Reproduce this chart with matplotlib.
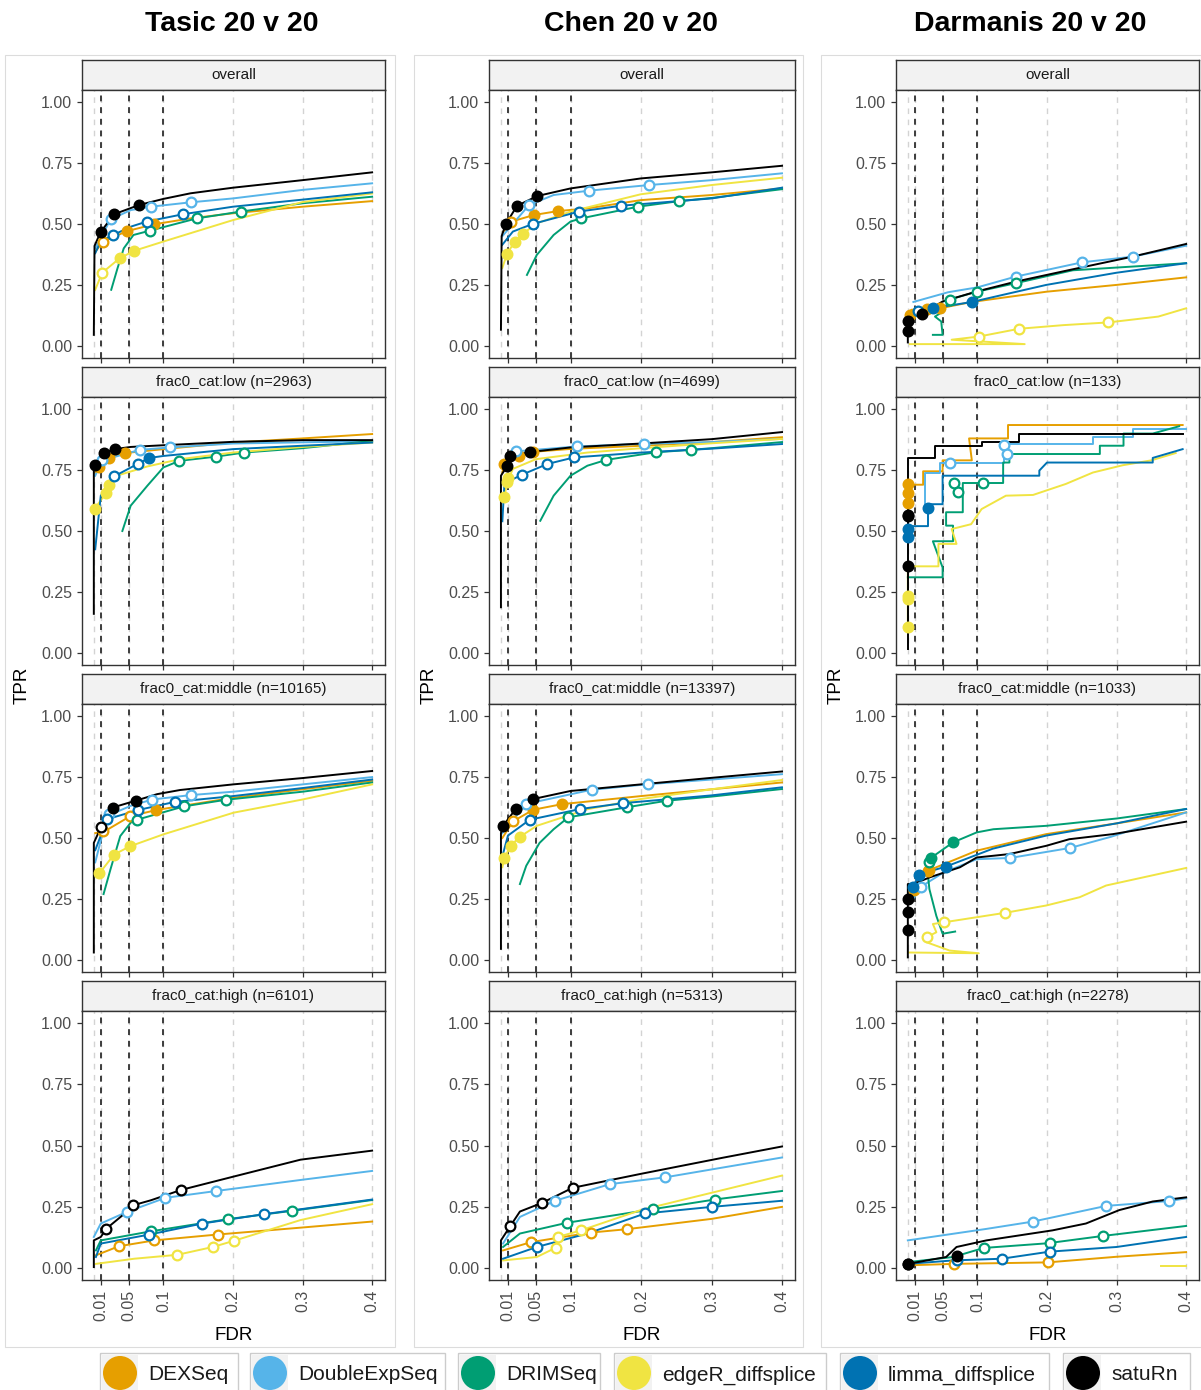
import matplotlib
matplotlib.use("Agg")
import matplotlib.pyplot as plt
from matplotlib.patches import Rectangle, Circle

plt.rcParams['font.family'] = ['Liberation Sans', 'DejaVu Sans']

# methods and colours
methods = ["DEXSeq", "DoubleExpSeq", "DRIMSeq", "edgeR_diffsplice", "limma_diffsplice", "satuRn"]
colors = ["#E69F00", "#56B4E9", "#009E73", "#F0E442", "#0072B2", "#000000"]

datasets = ["Tasic 20 v 20", "Chen 20 v 20", "Darmanis 20 v 20"]
strata_tasic = ["overall", "frac0_cat:low (n=2963)", "frac0_cat:middle (n=10165)", "frac0_cat:high (n=6101)"]
strata_chen = ["overall", "frac0_cat:low (n=4699)", "frac0_cat:middle (n=13397)", "frac0_cat:high (n=5313)"]
strata_darmanis = ["overall", "frac0_cat:low (n=133)", "frac0_cat:middle (n=1033)", "frac0_cat:high (n=2278)"]

thresholds = [0.01, 0.05, 0.1]
fdr_ticks = [0.01, 0.05, 0.1, 0.2, 0.3, 0.4]
fdr_labels = ["0.01", "0.05", "0.1", "0.2", "0.3", "0.4"]
tpr_ticks = [0.0, 0.25, 0.5, 0.75, 1.0]
tpr_labels = ["0.00", "0.25", "0.50", "0.75", "1.00"]

# ---- curves (FDR, TPR) and working points, one per threshold ----
tasic_overall = {
    "DEXSeq": [(0.002, 0.385), (0.013, 0.428), (0.048, 0.471), (0.087, 0.499), (0.139, 0.523), (0.2, 0.544), (0.3, 0.571), (0.4, 0.594)],
    "DoubleExpSeq": [(0.002, 0.40), (0.024, 0.519), (0.053, 0.557), (0.082, 0.571), (0.139, 0.589), (0.2, 0.605), (0.3, 0.64), (0.4, 0.667)],
    "DRIMSeq": [(0.025, 0.23), (0.034, 0.318), (0.043, 0.40), (0.057, 0.455), (0.081, 0.473), (0.148, 0.523), (0.211, 0.551), (0.3, 0.585), (0.4, 0.612)],
    "edgeR_diffsplice": [(0.002, 0.23), (0.012, 0.30), (0.037, 0.359), (0.058, 0.39), (0.1, 0.428), (0.2, 0.516), (0.3, 0.59), (0.4, 0.625)],
    "limma_diffsplice": [(0.002, 0.38), (0.01, 0.43), (0.028, 0.455), (0.053, 0.489), (0.076, 0.51), (0.128, 0.54), (0.2, 0.571), (0.3, 0.60), (0.4, 0.63)],
    "satuRn": [(0.0, 0.045), (0.001, 0.41), (0.0096, 0.466), (0.029, 0.54), (0.065, 0.578), (0.1, 0.603), (0.139, 0.626), (0.2, 0.649), (0.3, 0.68), (0.4, 0.712)],
}
tasic_overall_pts = {
    "DEXSeq": [(0.013, 0.428), (0.048, 0.471), (0.087, 0.499)],
    "DoubleExpSeq": [(0.024, 0.519), (0.082, 0.571), (0.139, 0.589)],
    "DRIMSeq": [(0.081, 0.473), (0.148, 0.523), (0.211, 0.551)],
    "edgeR_diffsplice": [(0.012, 0.30), (0.037, 0.359), (0.058, 0.39)],
    "limma_diffsplice": [(0.028, 0.455), (0.076, 0.51), (0.128, 0.54)],
    "satuRn": [(0.0096, 0.466), (0.029, 0.54), (0.065, 0.578)],
}

chen_overall = {
    "DEXSeq": [(0.003, 0.468), (0.015, 0.51), (0.047, 0.537), (0.081, 0.553), (0.123, 0.564), (0.199, 0.598), (0.3, 0.619), (0.4, 0.646)],
    "DoubleExpSeq": [(0.002, 0.45), (0.04, 0.578), (0.075, 0.619), (0.126, 0.637), (0.211, 0.66), (0.3, 0.68), (0.4, 0.708)],
    "DRIMSeq": [(0.037, 0.291), (0.051, 0.373), (0.075, 0.455), (0.099, 0.51), (0.114, 0.523), (0.195, 0.571), (0.254, 0.594), (0.3, 0.607), (0.4, 0.643)],
    "edgeR_diffsplice": [(0.002, 0.32), (0.0086, 0.377), (0.0196, 0.428), (0.031, 0.459), (0.051, 0.503), (0.099, 0.551), (0.199, 0.622), (0.3, 0.66), (0.4, 0.69)],
    "limma_diffsplice": [(0.002, 0.415), (0.017, 0.469), (0.045, 0.50), (0.111, 0.551), (0.171, 0.575), (0.3, 0.605), (0.4, 0.649)],
    "satuRn": [(0.0, 0.066), (0.001, 0.45), (0.0067, 0.499), (0.023, 0.575), (0.052, 0.615), (0.099, 0.646), (0.199, 0.687), (0.3, 0.712), (0.4, 0.739)],
}
chen_overall_pts = {
    "DEXSeq": [(0.015, 0.51), (0.047, 0.537), (0.081, 0.553)],
    "DoubleExpSeq": [(0.04, 0.578), (0.126, 0.637), (0.211, 0.66)],
    "DRIMSeq": [(0.114, 0.523), (0.195, 0.571), (0.254, 0.594)],
    "edgeR_diffsplice": [(0.0086, 0.377), (0.0196, 0.428), (0.031, 0.459)],
    "limma_diffsplice": [(0.045, 0.50), (0.111, 0.551), (0.171, 0.575)],
    "satuRn": [(0.0067, 0.499), (0.023, 0.575), (0.052, 0.615)],
}

darmanis_overall = {
    "DEXSeq": [(0.003, 0.127), (0.005, 0.148), (0.046, 0.154), (0.092, 0.18), (0.199, 0.222), (0.3, 0.25), (0.4, 0.281)],
    "DoubleExpSeq": [(0.008, 0.18), (0.058, 0.22), (0.1, 0.24), (0.155, 0.284), (0.251, 0.343), (0.323, 0.366), (0.4, 0.411)],
    "DRIMSeq": [(0.036, 0.045), (0.05, 0.045), (0.048, 0.10), (0.039, 0.12), (0.05, 0.14), (0.06, 0.19), (0.099, 0.222), (0.155, 0.257), (0.237, 0.31), (0.4, 0.339)],
    "edgeR_diffsplice": [(0.003, 0.007), (0.168, 0.007), (0.063, 0.025), (0.102, 0.038), (0.16, 0.07), (0.224, 0.085), (0.288, 0.096), (0.36, 0.12), (0.4, 0.154)],
    "limma_diffsplice": [(0.008, 0.13), (0.015, 0.143), (0.036, 0.154), (0.092, 0.18), (0.199, 0.25), (0.3, 0.30), (0.4, 0.339)],
    "satuRn": [(0.0, 0.014), (0.0, 0.12), (0.0077, 0.12), (0.02, 0.13), (0.05, 0.182), (0.099, 0.223), (0.156, 0.264), (0.232, 0.311), (0.323, 0.366), (0.4, 0.418)],
}
darmanis_overall_pts = {
    "DEXSeq": [(0.003, 0.127), (0.028, 0.15), (0.046, 0.154)],
    "DoubleExpSeq": [(0.155, 0.284), (0.251, 0.343), (0.323, 0.366)],
    "DRIMSeq": [(0.06, 0.19), (0.099, 0.222), (0.155, 0.257)],
    "edgeR_diffsplice": [(0.102, 0.038), (0.16, 0.07), (0.288, 0.096)],
    "limma_diffsplice": [(0.015, 0.143), (0.036, 0.154), (0.092, 0.18)],
    "satuRn": [(0.0, 0.062), (0.0, 0.10), (0.02, 0.13)],
}

tasic_low = {
    "DEXSeq": [(0.002, 0.74), (0.007, 0.762), (0.0215, 0.80), (0.045, 0.82), (0.1, 0.836), (0.2, 0.863), (0.3, 0.88), (0.4, 0.898)],
    "DoubleExpSeq": [(0.002, 0.727), (0.012, 0.79), (0.066, 0.833), (0.109, 0.843), (0.2, 0.859), (0.3, 0.864), (0.4, 0.868)],
    "DRIMSeq": [(0.041, 0.50), (0.053, 0.604), (0.077, 0.686), (0.1, 0.761), (0.123, 0.788), (0.175, 0.805), (0.216, 0.822), (0.3, 0.84), (0.4, 0.87)],
    "edgeR_diffsplice": [(0.001, 0.59), (0.018, 0.658), (0.0215, 0.689), (0.033, 0.727), (0.077, 0.765), (0.124, 0.795), (0.2, 0.822), (0.3, 0.845), (0.4, 0.863)],
    "limma_diffsplice": [(0.002, 0.425), (0.01, 0.645), (0.029, 0.724), (0.064, 0.777), (0.08, 0.80), (0.1, 0.808), (0.2, 0.836), (0.3, 0.85), (0.4, 0.863)],
    "satuRn": [(0.0, 0.16), (0.0, 0.75), (0.001, 0.77), (0.015, 0.822), (0.03, 0.836), (0.053, 0.845), (0.1, 0.852), (0.2, 0.866), (0.3, 0.873), (0.4, 0.873)],
}
tasic_low_pts = {
    "DEXSeq": [(0.007, 0.762), (0.0215, 0.80), (0.045, 0.82)],
    "DoubleExpSeq": [(0.012, 0.79), (0.066, 0.833), (0.109, 0.843)],
    "DRIMSeq": [(0.123, 0.788), (0.175, 0.805), (0.216, 0.822)],
    "edgeR_diffsplice": [(0.001, 0.59), (0.018, 0.658), (0.0215, 0.689)],
    "limma_diffsplice": [(0.029, 0.724), (0.064, 0.777), (0.08, 0.80)],
    "satuRn": [(0.001, 0.77), (0.015, 0.822), (0.03, 0.836)],
}

chen_low = {
    "DEXSeq": [(0.002, 0.74), (0.005, 0.775), (0.026, 0.806), (0.046, 0.825), (0.1, 0.837), (0.2, 0.85), (0.3, 0.865), (0.4, 0.885)],
    "DoubleExpSeq": [(0.002, 0.76), (0.022, 0.827), (0.108, 0.847), (0.204, 0.858), (0.3, 0.865), (0.4, 0.878)],
    "DRIMSeq": [(0.056, 0.542), (0.075, 0.645), (0.099, 0.727), (0.123, 0.768), (0.15, 0.792), (0.22, 0.823), (0.27, 0.833), (0.3, 0.84), (0.4, 0.865)],
    "edgeR_diffsplice": [(0.005, 0.638), (0.0086, 0.70), (0.017, 0.755), (0.05, 0.795), (0.123, 0.822), (0.2, 0.84), (0.3, 0.86), (0.4, 0.878)],
    "limma_diffsplice": [(0.002, 0.54), (0.005, 0.696), (0.03, 0.731), (0.066, 0.775), (0.104, 0.802), (0.2, 0.822), (0.3, 0.838), (0.4, 0.857)],
    "satuRn": [(0.0, 0.187), (0.0, 0.727), (0.0086, 0.765), (0.0134, 0.807), (0.041, 0.824), (0.099, 0.843), (0.199, 0.859), (0.3, 0.877), (0.4, 0.906)],
}
chen_low_pts = {
    "DEXSeq": [(0.005, 0.775), (0.026, 0.806), (0.046, 0.825)],
    "DoubleExpSeq": [(0.022, 0.827), (0.108, 0.847), (0.204, 0.858)],
    "DRIMSeq": [(0.15, 0.792), (0.22, 0.823), (0.27, 0.833)],
    "edgeR_diffsplice": [(0.005, 0.638), (0.0086, 0.70), (0.0095, 0.718)],
    "limma_diffsplice": [(0.03, 0.731), (0.066, 0.775), (0.104, 0.802)],
    "satuRn": [(0.0086, 0.765), (0.0134, 0.807), (0.041, 0.824)],
}

darmanis_low = {
    "DEXSeq": [(0.0, 0.61), (0.0, 0.69), (0.022, 0.69), (0.022, 0.745), (0.05, 0.745), (0.05, 0.79), (0.092, 0.79), (0.088, 0.88), (0.144, 0.88), (0.144, 0.935), (0.395, 0.935)],
    "DoubleExpSeq": [(0.024, 0.59), (0.024, 0.74), (0.046, 0.74), (0.046, 0.781), (0.138, 0.781), (0.138, 0.858), (0.266, 0.858), (0.266, 0.885), (0.323, 0.885), (0.323, 0.918), (0.4, 0.918)],
    "DRIMSeq": [(0.0, 0.31), (0.05, 0.31), (0.05, 0.35), (0.036, 0.458), (0.065, 0.458), (0.065, 0.522), (0.055, 0.522), (0.055, 0.577), (0.079, 0.577), (0.079, 0.697), (0.137, 0.697), (0.137, 0.781), (0.146, 0.781), (0.146, 0.816), (0.276, 0.816), (0.276, 0.85), (0.31, 0.85), (0.31, 0.90), (0.352, 0.90), (0.39, 0.93)],
    "edgeR_diffsplice": [(0.0, 0.10), (0.0, 0.355), (0.044, 0.355), (0.044, 0.447), (0.07, 0.447), (0.063, 0.508), (0.091, 0.528), (0.106, 0.59), (0.141, 0.645), (0.18, 0.648), (0.227, 0.693), (0.266, 0.74), (0.309, 0.77), (0.35, 0.79), (0.385, 0.82)],
    "limma_diffsplice": [(0.0, 0.46), (0.0, 0.52), (0.029, 0.52), (0.029, 0.61), (0.05, 0.61), (0.05, 0.727), (0.189, 0.727), (0.189, 0.748), (0.2, 0.781), (0.352, 0.781), (0.352, 0.80), (0.395, 0.836)],
    "satuRn": [(0.0, 0.016), (0.0, 0.80), (0.039, 0.80), (0.039, 0.85), (0.106, 0.85), (0.106, 0.864), (0.16, 0.864), (0.16, 0.898), (0.395, 0.898)],
}
darmanis_low_pts = {
    "DEXSeq": [(0.0, 0.613), (0.0, 0.658), (0.0, 0.693)],
    "DoubleExpSeq": [(0.06, 0.781), (0.138, 0.851), (0.143, 0.817)],
    "DRIMSeq": [(0.067, 0.697), (0.072, 0.661), (0.108, 0.697)],
    "edgeR_diffsplice": [(0.0, 0.105), (0.0, 0.22), (0.0, 0.235)],
    "limma_diffsplice": [(0.0, 0.474), (0.0, 0.51), (0.029, 0.593)],
    "satuRn": [(0.0, 0.355), (0.0, 0.563), (0.0, 0.565)],
}

tasic_middle = {
    "DEXSeq": [(0.002, 0.52), (0.014, 0.525), (0.052, 0.589), (0.09, 0.615), (0.2, 0.665), (0.3, 0.70), (0.4, 0.735)],
    "DoubleExpSeq": [(0.002, 0.40), (0.019, 0.59), (0.053, 0.632), (0.084, 0.658), (0.139, 0.676), (0.2, 0.69), (0.3, 0.72), (0.4, 0.75)],
    "DRIMSeq": [(0.014, 0.27), (0.024, 0.372), (0.038, 0.508), (0.053, 0.563), (0.062, 0.575), (0.13, 0.63), (0.19, 0.657), (0.3, 0.69), (0.4, 0.728)],
    "edgeR_diffsplice": [(0.008, 0.355), (0.029, 0.432), (0.052, 0.466), (0.1, 0.515), (0.201, 0.604), (0.3, 0.658), (0.4, 0.72)],
    "limma_diffsplice": [(0.002, 0.45), (0.019, 0.577), (0.064, 0.615), (0.116, 0.648), (0.2, 0.672), (0.3, 0.705), (0.4, 0.74)],
    "satuRn": [(0.0, 0.03), (0.0, 0.48), (0.0105, 0.546), (0.027, 0.625), (0.06, 0.653), (0.091, 0.68), (0.124, 0.697), (0.2, 0.72), (0.3, 0.746), (0.4, 0.775)],
}
tasic_middle_pts = {
    "DEXSeq": [(0.013, 0.527), (0.052, 0.589), (0.09, 0.615)],
    "DoubleExpSeq": [(0.022, 0.60), (0.084, 0.658), (0.139, 0.676)],
    "DRIMSeq": [(0.062, 0.575), (0.13, 0.63), (0.19, 0.657)],
    "edgeR_diffsplice": [(0.008, 0.355), (0.029, 0.432), (0.052, 0.466)],
    "limma_diffsplice": [(0.019, 0.577), (0.064, 0.615), (0.116, 0.648)],
    "satuRn": [(0.0105, 0.546), (0.027, 0.625), (0.06, 0.653)],
}

chen_middle = {
    "DEXSeq": [(0.002, 0.50), (0.017, 0.568), (0.046, 0.616), (0.087, 0.639), (0.199, 0.672), (0.3, 0.70), (0.4, 0.728)],
    "DoubleExpSeq": [(0.002, 0.52), (0.036, 0.64), (0.129, 0.698), (0.21, 0.721), (0.3, 0.74), (0.4, 0.762)],
    "DRIMSeq": [(0.027, 0.311), (0.036, 0.386), (0.055, 0.48), (0.075, 0.536), (0.096, 0.585), (0.179, 0.626), (0.236, 0.653), (0.3, 0.67), (0.4, 0.701)],
    "edgeR_diffsplice": [(0.002, 0.38), (0.005, 0.418), (0.014, 0.469), (0.027, 0.505), (0.051, 0.55), (0.123, 0.618), (0.199, 0.66), (0.3, 0.70), (0.4, 0.738)],
    "limma_diffsplice": [(0.002, 0.425), (0.01, 0.51), (0.041, 0.575), (0.113, 0.619), (0.174, 0.643), (0.3, 0.675), (0.4, 0.708)],
    "satuRn": [(0.0, 0.045), (0.0, 0.52), (0.003, 0.55), (0.021, 0.619), (0.046, 0.66), (0.099, 0.693), (0.199, 0.72), (0.3, 0.747), (0.4, 0.773)],
}
chen_middle_pts = {
    "DEXSeq": [(0.017, 0.568), (0.046, 0.616), (0.087, 0.639)],
    "DoubleExpSeq": [(0.036, 0.64), (0.129, 0.698), (0.21, 0.721)],
    "DRIMSeq": [(0.096, 0.585), (0.179, 0.626), (0.236, 0.653)],
    "edgeR_diffsplice": [(0.005, 0.418), (0.014, 0.469), (0.027, 0.505)],
    "limma_diffsplice": [(0.041, 0.575), (0.113, 0.619), (0.174, 0.643)],
    "satuRn": [(0.003, 0.55), (0.021, 0.619), (0.046, 0.66)],
}

darmanis_middle = {
    "DEXSeq": [(0.005, 0.277), (0.0086, 0.288), (0.029, 0.366), (0.099, 0.448), (0.199, 0.516), (0.3, 0.56), (0.4, 0.605)],
    "DoubleExpSeq": [(0.008, 0.25), (0.019, 0.30), (0.051, 0.358), (0.099, 0.413), (0.147, 0.418), (0.233, 0.459), (0.292, 0.505), (0.4, 0.605)],
    "DRIMSeq": [(0.068, 0.116), (0.05, 0.107), (0.041, 0.18), (0.031, 0.29), (0.028, 0.372), (0.033, 0.418), (0.065, 0.482), (0.099, 0.523), (0.123, 0.536), (0.199, 0.55), (0.3, 0.58), (0.4, 0.619)],
    "edgeR_diffsplice": [(0.002, 0.03), (0.102, 0.027), (0.06, 0.038), (0.027, 0.072), (0.027, 0.093), (0.041, 0.113), (0.036, 0.147), (0.052, 0.154), (0.14, 0.193), (0.199, 0.223), (0.247, 0.257), (0.285, 0.305), (0.4, 0.377)],
    "limma_diffsplice": [(0.008, 0.263), (0.008, 0.30), (0.016, 0.35), (0.055, 0.383), (0.122, 0.456), (0.199, 0.51), (0.3, 0.56), (0.4, 0.619)],
    "satuRn": [(0.0, 0.01), (0.0, 0.311), (0.0077, 0.311), (0.032, 0.339), (0.075, 0.38), (0.099, 0.42), (0.146, 0.434), (0.199, 0.468), (0.232, 0.495), (0.295, 0.516), (0.4, 0.567)],
}
darmanis_middle_pts = {
    "DEXSeq": [(0.0086, 0.288), (0.029, 0.366), (0.03, 0.37)],
    "DoubleExpSeq": [(0.019, 0.30), (0.147, 0.418), (0.233, 0.459)],
    "DRIMSeq": [(0.031, 0.40), (0.033, 0.418), (0.065, 0.482)],
    "edgeR_diffsplice": [(0.027, 0.093), (0.052, 0.154), (0.14, 0.193)],
    "limma_diffsplice": [(0.008, 0.30), (0.016, 0.35), (0.055, 0.383)],
    "satuRn": [(0.0, 0.123), (0.0, 0.198), (0.0, 0.25)],
}

tasic_high = {
    "DEXSeq": [(0.003, 0.051), (0.036, 0.088), (0.087, 0.112), (0.178, 0.136), (0.297, 0.164), (0.4, 0.189)],
    "DoubleExpSeq": [(0.0, 0.126), (0.01, 0.181), (0.048, 0.229), (0.103, 0.286), (0.176, 0.314), (0.297, 0.359), (0.4, 0.396)],
    "DRIMSeq": [(0.003, 0.071), (0.01, 0.112), (0.082, 0.149), (0.193, 0.199), (0.285, 0.233), (0.4, 0.277)],
    "edgeR_diffsplice": [(0.003, 0.016), (0.058, 0.037), (0.12, 0.053), (0.171, 0.085), (0.201, 0.11), (0.297, 0.195), (0.4, 0.26)],
    "limma_diffsplice": [(0.003, 0.044), (0.01, 0.099), (0.08, 0.136), (0.156, 0.181), (0.244, 0.219), (0.4, 0.279)],
    "satuRn": [(0.0, 0.003), (0.0, 0.112), (0.01, 0.126), (0.018, 0.16), (0.041, 0.214), (0.057, 0.256), (0.082, 0.276), (0.125, 0.318), (0.201, 0.373), (0.297, 0.442), (0.4, 0.479)],
}
tasic_high_pts = {
    "DEXSeq": [(0.036, 0.088), (0.087, 0.112), (0.178, 0.136)],
    "DoubleExpSeq": [(0.048, 0.229), (0.103, 0.286), (0.176, 0.314)],
    "DRIMSeq": [(0.082, 0.149), (0.193, 0.199), (0.285, 0.233)],
    "edgeR_diffsplice": [(0.12, 0.053), (0.171, 0.085), (0.201, 0.11)],
    "limma_diffsplice": [(0.08, 0.136), (0.156, 0.181), (0.244, 0.219)],
    "satuRn": [(0.018, 0.16), (0.057, 0.256), (0.125, 0.318)],
}

chen_high = {
    "DEXSeq": [(0.003, 0.071), (0.043, 0.105), (0.128, 0.144), (0.18, 0.158), (0.3, 0.20), (0.4, 0.249)],
    "DoubleExpSeq": [(0.003, 0.099), (0.027, 0.208), (0.077, 0.274), (0.155, 0.342), (0.234, 0.37), (0.4, 0.451)],
    "DRIMSeq": [(0.003, 0.085), (0.027, 0.14), (0.094, 0.184), (0.217, 0.24), (0.304, 0.279), (0.4, 0.314)],
    "edgeR_diffsplice": [(0.003, 0.03), (0.051, 0.044), (0.078, 0.082), (0.081, 0.126), (0.114, 0.153), (0.199, 0.236), (0.4, 0.377)],
    "limma_diffsplice": [(0.003, 0.037), (0.051, 0.085), (0.123, 0.14), (0.205, 0.222), (0.3, 0.249), (0.4, 0.274)],
    "satuRn": [(0.0, 0.003), (0.0, 0.112), (0.0134, 0.171), (0.027, 0.23), (0.059, 0.266), (0.102, 0.327), (0.199, 0.384), (0.314, 0.449), (0.4, 0.496)],
}
chen_high_pts = {
    "DEXSeq": [(0.043, 0.105), (0.128, 0.144), (0.18, 0.158)],
    "DoubleExpSeq": [(0.077, 0.274), (0.155, 0.342), (0.234, 0.37)],
    "DRIMSeq": [(0.094, 0.184), (0.217, 0.24), (0.304, 0.279)],
    "edgeR_diffsplice": [(0.078, 0.082), (0.081, 0.126), (0.114, 0.153)],
    "limma_diffsplice": [(0.051, 0.085), (0.205, 0.222), (0.3, 0.249)],
    "satuRn": [(0.0134, 0.171), (0.059, 0.266), (0.102, 0.327)],
}

darmanis_high = {
    "DEXSeq": [(0.0, 0.01), (0.067, 0.016), (0.201, 0.022), (0.3, 0.045), (0.4, 0.064)],
    "DoubleExpSeq": [(0.0, 0.112), (0.017, 0.119), (0.113, 0.159), (0.18, 0.189), (0.285, 0.253), (0.376, 0.273), (0.4, 0.284)],
    "DRIMSeq": [(0.0, 0.023), (0.065, 0.044), (0.109, 0.081), (0.2, 0.10), (0.28, 0.13), (0.4, 0.171)],
    "edgeR_diffsplice": [(0.364, 0.007), (0.4, 0.007)],
    "limma_diffsplice": [(0.0, 0.016), (0.065, 0.03), (0.135, 0.037), (0.204, 0.066), (0.3, 0.085), (0.4, 0.126)],
    "satuRn": [(0.0, 0.016), (0.055, 0.044), (0.07, 0.085), (0.113, 0.112), (0.208, 0.153), (0.256, 0.181), (0.304, 0.236), (0.352, 0.271), (0.4, 0.288)],
}
darmanis_high_pts = {
    "DEXSeq": [None, (0.067, 0.016), (0.201, 0.022)],
    "DoubleExpSeq": [(0.18, 0.189), (0.285, 0.253), (0.376, 0.273)],
    "DRIMSeq": [(0.109, 0.081), (0.204, 0.10), (0.28, 0.13)],
    "edgeR_diffsplice": [],
    "limma_diffsplice": [(0.07, 0.03), (0.135, 0.037), (0.204, 0.066)],
    "satuRn": [(0.0, 0.014), (0.0, 0.016), (0.07, 0.05)],
}

columns = [
    (datasets[0], strata_tasic, [(tasic_overall, tasic_overall_pts), (tasic_low, tasic_low_pts),
                                 (tasic_middle, tasic_middle_pts), (tasic_high, tasic_high_pts)]),
    (datasets[1], strata_chen, [(chen_overall, chen_overall_pts), (chen_low, chen_low_pts),
                                (chen_middle, chen_middle_pts), (chen_high, chen_high_pts)]),
    (datasets[2], strata_darmanis, [(darmanis_overall, darmanis_overall_pts), (darmanis_low, darmanis_low_pts),
                                    (darmanis_middle, darmanis_middle_pts), (darmanis_high, darmanis_high_pts)]),
]

# ---- layout (pixels) ----
W, H = 1201, 1390
col_x = [(82, 385), (489, 795), (896, 1199)]
col_frames = [(5, 395), (414, 803), (821, 1201)]
title_x = [232, 631, 1030]
row_y = [(90, 358), (397, 665), (704, 972), (1011, 1280)]
strip_h = 30


def box(x0, y0, x1, y1):
    return [x0 / W, 1 - y1 / H, (x1 - x0) / W, (y1 - y0) / H]


fig = plt.figure(figsize=(W / 100, H / 100), dpi=100)

overlay = fig.add_axes([0, 0, 1, 1])
overlay.set_xlim(0, W)
overlay.set_ylim(H, 0)
overlay.axis('off')

for (fx0, fx1) in col_frames:
    overlay.add_patch(Rectangle((fx0, 55), fx1 - fx0, 1292, fill=False, ec='#DCDCDC', lw=0.8))

for ci, (dname, strata, panels) in enumerate(columns):
    x0, x1 = col_x[ci]
    xc = (x0 + x1) / 2
    overlay.text(title_x[ci], 24, dname, ha='center', va='center', fontsize=20.5, fontweight='bold', color='black')
    overlay.text(x0 - 60, 685, 'TPR', ha='center', va='center', rotation=90, fontsize=13.5, color='black')
    overlay.text(xc, 1335, 'FDR', ha='center', va='center', fontsize=13.5, color='black')

    for ri in range(4):
        top, bot = row_y[ri]
        curves, pts = panels[ri]

        sx = fig.add_axes(box(x0, top - strip_h, x1, top))
        sx.set_facecolor('#F2F2F2')
        sx.set_xticks([])
        sx.set_yticks([])
        for sp in sx.spines.values():
            sp.set_color('#333333')
            sp.set_linewidth(1.0)
        sx.text(0.5, 0.5, strata[ri], ha='center', va='center', fontsize=11, color='#1A1A1A',
                transform=sx.transAxes)

        ax = fig.add_axes(box(x0, top, x1, bot))
        ax.set_xlim(-0.017, 0.4185)
        ax.set_ylim(-0.05, 1.05)
        for gx in [0.0] + fdr_ticks:
            ax.axvline(gx, color='#D3D3D3', ls=(0, (4, 4)), lw=1.0, zorder=0)
        for t in thresholds:
            ax.axvline(t, color='#3C3C3C', ls=(0, (3, 3)), lw=1.4, zorder=1)

        for m, c in zip(methods, colors):
            xy = curves.get(m, [])
            if xy:
                ax.plot([p[0] for p in xy], [p[1] for p in xy], color=c, lw=1.4, zorder=2)
        for m, c in zip(methods, colors):
            for t, p in zip(thresholds, pts.get(m, [])):
                if p is None:
                    continue
                filled = p[0] <= t
                ax.plot(p[0], p[1], 'o', ms=7, mfc=c if filled else 'white', mec=c, mew=1.6, zorder=3)

        ax.set_yticks(tpr_ticks)
        ax.set_yticklabels(tpr_labels)
        ax.set_xticks(fdr_ticks)
        if ri == 3:
            ax.set_xticklabels(fdr_labels, rotation=90)
        else:
            ax.set_xticklabels([])
            ax.tick_params(axis='x', length=0)
        ax.tick_params(colors='#333333', labelcolor='#4D4D4D', labelsize=11.5, length=3.5, width=0.9)
        for sp in ax.spines.values():
            sp.set_color('#333333')
            sp.set_linewidth(1.0)

# ---- legend ----
leg_boxes = [(100, 238), (250, 445), (458, 600), (614, 826), (840, 1049), (1063, 1190)]
for (bx0, bx1), m, c in zip(leg_boxes, methods, colors):
    overlay.add_patch(Rectangle((bx0, 1353), bx1 - bx0, 45, fill=False, ec='#CCCCCC', lw=1.0))
    overlay.add_patch(Rectangle((bx0 + 2, 1355), 36, 40, fc='#F2F2F2', ec='none'))
    overlay.add_patch(Circle((bx0 + 20, 1373), 17, fc=c, ec='none'))
    overlay.text(bx0 + 48, 1375, m, ha='left', va='center', fontsize=15, color='#1A1A1A')

fig.savefig('out.png', dpi=100)
